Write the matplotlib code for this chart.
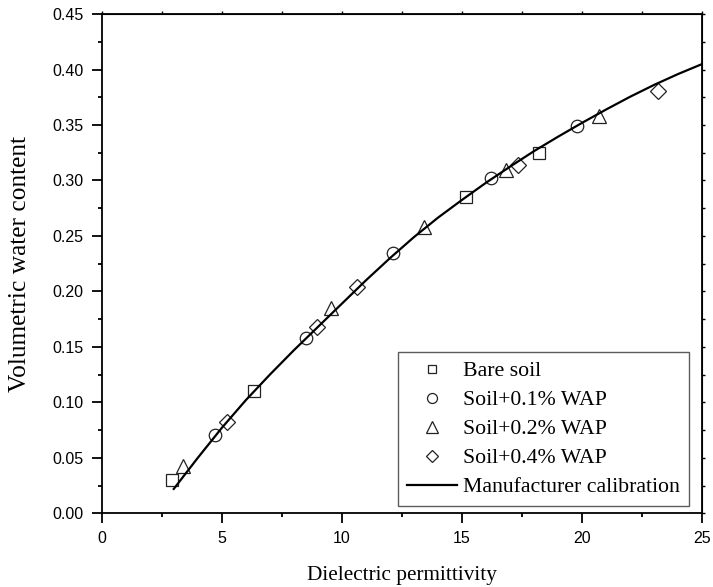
import matplotlib
matplotlib.use('Agg')
import matplotlib.pyplot as plt
from matplotlib.ticker import MultipleLocator

# Измеренные точки (диэлектрическая проницаемость, объёмная влажность)
bare_x = [2.94, 6.36, 15.18, 18.22]
bare_y = [0.030, 0.110, 0.285, 0.325]

wap01_x = [4.70, 8.51, 12.12, 16.22, 19.78]
wap01_y = [0.071, 0.158, 0.235, 0.302, 0.349]

wap02_x = [3.40, 9.55, 13.41, 16.82, 20.71]
wap02_y = [0.043, 0.185, 0.258, 0.309, 0.358]

wap04_x = [5.20, 8.97, 10.61, 17.33, 23.14]
wap04_y = [0.0825, 0.168, 0.204, 0.314, 0.381]

# Калибровочная кривая производителя
calib_x = [3.0, 4.0, 5.0, 6.0, 7.0, 8.0, 9.0, 10.0, 11.0, 12.0, 13.0, 14.0,
           15.0, 16.0, 17.0, 18.0, 19.0, 20.0, 21.0, 22.0, 23.0, 24.0, 25.0]
calib_y = [0.022, 0.050, 0.077, 0.102, 0.125, 0.147, 0.168, 0.189, 0.210,
           0.230, 0.249, 0.2665, 0.2825, 0.298, 0.3125, 0.3265, 0.3395,
           0.352, 0.364, 0.3755, 0.3862, 0.396, 0.405]

serif = 'Liberation Serif'
sans = 'Liberation Sans'

fig = plt.figure(figsize=(7.13, 5.87), dpi=100)
ax = fig.add_axes([0.1426, 0.1255, 0.8424, 0.8506])

mk = dict(linestyle='none', markerfacecolor='none', markeredgecolor='#222222',
          markeredgewidth=0.9)
ax.plot(bare_x, bare_y, marker='s', markersize=8, label='Bare soil', **mk)
ax.plot(wap01_x, wap01_y, marker='o', markersize=9, label='Soil+0.1% WAP', **mk)
ax.plot(wap02_x, wap02_y, marker='^', markersize=10, label='Soil+0.2% WAP', **mk)
ax.plot(wap04_x, wap04_y, marker='D', markersize=8, label='Soil+0.4% WAP', **mk)
ax.plot(calib_x, calib_y, color='black', linewidth=1.6, label='Manufacturer calibration')

ax.set_xlim(0, 25)
ax.set_ylim(0, 0.45)
ax.xaxis.set_major_locator(MultipleLocator(5))
ax.xaxis.set_minor_locator(MultipleLocator(2.5))
ax.yaxis.set_major_locator(MultipleLocator(0.05))
ax.yaxis.set_minor_locator(MultipleLocator(0.025))
ax.yaxis.set_major_formatter(plt.FormatStrFormatter('%.2f'))

for s in ax.spines.values():
    s.set_linewidth(1.3)
ax.tick_params(which='major', direction='out', length=7, width=1.3, labelsize=11.5, pad=6)
ax.tick_params(which='minor', direction='out', length=3, width=1.3)
for lab in ax.get_xticklabels() + ax.get_yticklabels():
    lab.set_family(sans)

# Дополнительные оси сверху и справа с короткими рисками
top = ax.secondary_xaxis('top')
top.xaxis.set_major_locator(MultipleLocator(5))
top.xaxis.set_minor_locator(MultipleLocator(2.5))
top.tick_params(which='both', direction='out', length=2.5, width=1.0, labeltop=False)
right = ax.secondary_yaxis('right')
right.yaxis.set_major_locator(MultipleLocator(0.05))
right.yaxis.set_minor_locator(MultipleLocator(0.025))
right.tick_params(which='both', direction='out', length=2.5, width=1.0, labelright=False)

ax.set_xlabel('Dielectric permittivity', family=serif, fontsize=15.3, labelpad=14)
ax.yaxis.set_label_coords(-0.118, 0.5)
ax.set_ylabel('Volumetric water content', family=serif, fontsize=18.3)

leg = ax.legend(loc='lower right', bbox_to_anchor=(0.978, 0.0146),
                prop={'family': serif, 'size': 15.7}, markerscale=0.8,
                frameon=True, fancybox=False, edgecolor='#333333', handlelength=2.3,
                borderpad=0.4, labelspacing=0.4, handletextpad=0.3, borderaxespad=0)
leg.get_frame().set_linewidth(1.0)

fig.savefig('out.png', dpi=100)
